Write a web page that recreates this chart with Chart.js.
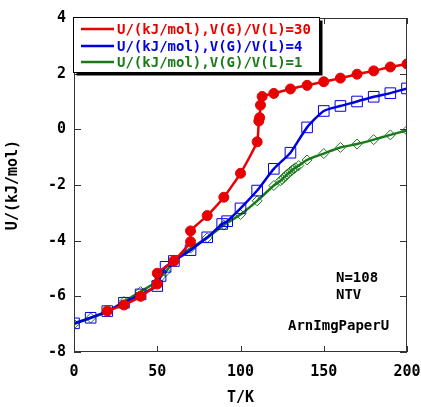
<!DOCTYPE html>
<html>
<head>
<meta charset="utf-8">
<script src="https://cdn.jsdelivr.net/npm/chart.js@4/dist/chart.umd.min.js"></script>
<style>
  html, body { margin: 0; padding: 0; background: #fff; }
  #wrap { width: 421px; height: 407px; position: relative; }
</style>
</head>
<body>
<div id="wrap"><canvas id="chart" width="421" height="407"></canvas></div>
<script>
// U vs T for three V(G)/V(L) ratios
const red_T = [20, 30, 40, 50, 50, 60, 70, 70, 80, 90, 100, 110, 111, 111.5, 112, 113, 120, 130, 140, 150, 160, 170, 180, 190, 200];
const red_U = [-6.53, -6.31, -6.0, -5.56, -5.17, -4.73, -4.04, -3.65, -3.1, -2.44, -1.58, -0.45, 0.3, 0.42, 0.87, 1.18, 1.29, 1.45, 1.58, 1.71, 1.84, 1.98, 2.1, 2.24, 2.35];

const blue_T = [0, 10, 20, 30, 40, 50, 52, 55, 60, 70, 80, 89, 92, 100, 110, 120, 130, 140, 150, 160, 170, 180, 190, 200];
const blue_U = [-6.97, -6.77, -6.53, -6.23, -5.93, -5.63, -5.27, -4.94, -4.73, -4.34, -3.88, -3.4, -3.3, -2.84, -2.2, -1.42, -0.84, 0.07, 0.66, 0.84, 1.0, 1.17, 1.3, 1.47];

const green_T = [0, 10, 20, 30, 40, 50, 52, 55, 60, 70, 80, 90, 100, 110, 120, 124, 125, 126, 127, 128, 129, 130, 131, 132, 133, 135, 140, 150, 160, 170, 180, 190, 200];
const green_U = [-7.0, -6.78, -6.55, -6.19, -5.83, -5.47, -5.3, -5.12, -4.75, -4.27, -3.9, -3.44, -3.06, -2.57, -2.02, -1.85, -1.8, -1.73, -1.68, -1.62, -1.57, -1.52, -1.47, -1.42, -1.38, -1.3, -1.1, -0.87, -0.65, -0.53, -0.37, -0.2, -0.04];

const series_labels = ['U/(kJ/mol),V(G)/V(L)=30', 'U/(kJ/mol),V(G)/V(L)=4', 'U/(kJ/mol),V(G)/V(L)=1'];
const notes = ['N=108', 'NTV', 'ArnImgPaperU'];
const x_title = 'T/K';
const y_title = 'U/(kJ/mol)';

const FONT = '"DejaVu Sans Mono", monospace';

function pts(xs, ys) {
    let out = [];
    for (let i = 0; i < xs.length; i++) out.push({ x: xs[i], y: ys[i] });
    return out;
}

// frame, inward ticks, legend box, notes
const decor = {
    id: 'decor',
    afterDraw(chart) {
        const ctx = chart.ctx;
        const a = chart.chartArea;
        const xs = chart.scales.x, ys = chart.scales.y;
        ctx.save();
        ctx.strokeStyle = '#333';
        ctx.lineWidth = 1;
        ctx.strokeRect(a.left + 0.5, a.top + 0.5, a.right - a.left - 1, a.bottom - a.top - 1);
        ctx.beginPath();
        for (let v = 0; v <= 200; v += 50) {
            const px = Math.round(xs.getPixelForValue(v)) + 0.5;
            ctx.moveTo(px, a.bottom); ctx.lineTo(px, a.bottom - 6);
            ctx.moveTo(px, a.top); ctx.lineTo(px, a.top + 6);
        }
        for (let v = -8; v <= 4; v += 2) {
            const py = Math.round(ys.getPixelForValue(v)) + 0.5;
            ctx.moveTo(a.left, py); ctx.lineTo(a.left + 7, py);
            ctx.moveTo(a.right, py); ctx.lineTo(a.right - 7, py);
        }
        ctx.stroke();

        // legend
        const bx = 73.5, by = 17.5, bw = 246, bh = 55;
        ctx.fillStyle = '#000';
        ctx.fillRect(bx + 3, by + 3, bw, bh);
        ctx.fillStyle = '#fff';
        ctx.fillRect(bx, by, bw, bh);
        ctx.strokeStyle = '#000';
        ctx.strokeRect(bx, by, bw, bh);
        const rows = [29, 46, 62];
        ctx.font = 'bold 14px ' + FONT;
        ctx.textBaseline = 'middle';
        chart.data.datasets.forEach((ds, i) => {
            const y = rows[i];
            ctx.strokeStyle = ds.borderColor;
            ctx.lineWidth = 2.5;
            ctx.beginPath();
            ctx.moveTo(81, y); ctx.lineTo(114, y);
            ctx.stroke();
            ctx.lineWidth = ds.pointBorderWidth;
            ctx.fillStyle = ds.pointBackgroundColor;
            Chart.helpers.drawPoint(ctx, { pointStyle: ds.pointStyle, rotation: 0, borderWidth: ds.pointBorderWidth }, 97.5, y);
            if (ds.pointStyle === 'circle') ctx.fill();
            ctx.fillStyle = ds.borderColor;
            ctx.fillText(ds.label, 117, y + 1);
        });

        // notes
        ctx.fillStyle = '#000';
        ctx.fillText(notes[0], 336, 278);
        ctx.fillText(notes[1], 336, 295);
        ctx.fillText(notes[2], 288, 326);
        ctx.restore();
    }
};

new Chart(document.getElementById('chart'), {
    type: 'scatter',
    data: {
        datasets: [{
            label: series_labels[0],
            data: pts(red_T, red_U),
            showLine: true,
            borderColor: '#e80000',
            backgroundColor: '#e80000',
            borderWidth: 2.5,
            pointStyle: 'circle',
            pointRadius: 5,
            pointBackgroundColor: '#e80000',
            pointBorderColor: '#e80000',
            pointBorderWidth: 1,
            tension: 0.15
        }, {
            label: series_labels[1],
            data: pts(blue_T, blue_U),
            showLine: true,
            borderColor: '#0000e0',
            borderWidth: 2.5,
            pointStyle: 'rect',
            pointRadius: 7.5,
            pointBackgroundColor: 'rgba(0,0,0,0)',
            pointBorderColor: '#0000e0',
            pointBorderWidth: 1,
            tension: 0.2
        }, {
            label: series_labels[2],
            data: pts(green_T, green_U),
            showLine: true,
            borderColor: '#1a7a1a',
            borderWidth: 2.5,
            pointStyle: 'rectRot',
            pointRadius: 5,
            pointBackgroundColor: 'rgba(0,0,0,0)',
            pointBorderColor: '#1a7a1a',
            pointBorderWidth: 1,
            tension: 0.2
        }]
    },
    options: {
        responsive: false,
        animation: false,
        layout: { padding: { top: 18, right: 14, left: 0, bottom: 0 } },
        plugins: { legend: { display: false }, tooltip: { enabled: false } },
        scales: {
            x: {
                type: 'linear', min: 0, max: 200,
                grid: { display: false, drawTicks: false },
                border: { display: false },
                ticks: { stepSize: 50, padding: 11, color: '#000', font: { family: FONT, size: 15, weight: 'bold' } },
                title: { display: true, text: x_title, color: '#000', padding: { top: 11, bottom: 0 }, font: { family: FONT, size: 15, weight: 'bold' } },
                afterFit(s) { s.height = 55; s.paddingLeft = 0; s.paddingRight = 0; }
            },
            y: {
                type: 'linear', min: -8, max: 4,
                grid: { display: false, drawTicks: false },
                border: { display: false },
                ticks: { stepSize: 2, padding: 8, color: '#000', font: { family: FONT, size: 15, weight: 'bold' } },
                title: { display: true, text: y_title, color: '#000', font: { family: FONT, size: 15, weight: 'bold' } },
                afterFit(s) { s.width = 74; s.paddingTop = 0; s.paddingBottom = 0; }
            }
        }
    },
    plugins: [decor]
});
</script>
</body>
</html>
